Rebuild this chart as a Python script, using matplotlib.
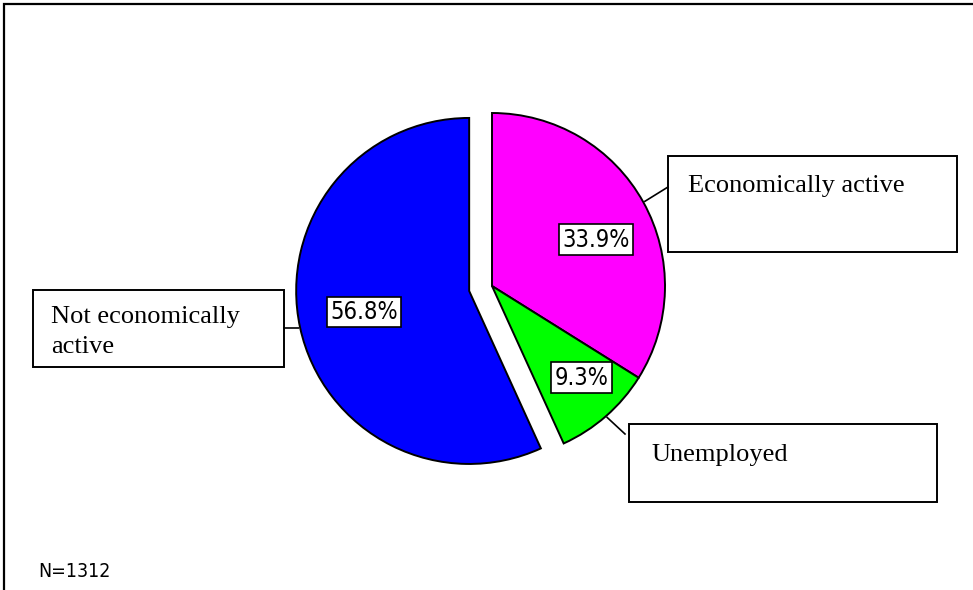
import matplotlib
matplotlib.use("Agg")
import matplotlib.pyplot as plt
from matplotlib.patches import Rectangle
from matplotlib import font_manager
import numpy as np

# slices, clockwise from 12 o'clock
labels = ["Economically active", "Unemployed", "Not economically\nactive"]
shares = [33.9, 9.3, 56.8]
colors = ["#ff00ff", "#00ff00", "#0000ff"]
explode = [0, 0, 0.135]   # as a fraction of the radius
sample_note = "N=1312"

W, H = 973, 590


def pick_font(names):
    have = {f.name for f in font_manager.fontManager.ttflist}
    for n in names:
        if n in have:
            return n
    return "DejaVu Sans"


def narrow_props(size):
    # prefer a narrow/condensed sans for the small numeric labels
    for f in font_manager.fontManager.ttflist:
        low = f.fname.lower()
        if ("narrow" in low or "condensed" in low) and "sans" in low \
                and "bold" not in low and "oblique" not in low \
                and "italic" not in low and "mono" not in low:
            return dict(fontproperties=font_manager.FontProperties(
                fname=f.fname, size=size))
    return dict(family="Liberation Sans", fontsize=size * 0.88)


serif = pick_font(["Liberation Serif", "DejaVu Serif"])


def up(y):
    # layout numbers are measured from the top edge
    return H - y


fig = plt.figure(figsize=(W / 100, H / 100), dpi=100)
ax = fig.add_axes([0, 0, 1, 1])

R = 173
wedges, _ = ax.pie(shares, colors=colors, startangle=90, counterclock=False,
                   explode=[e * R for e in explode], center=(492, up(286)),
                   radius=R,
                   wedgeprops=dict(edgecolor="black", linewidth=1.4))
ax.set_xlim(0, W)
ax.set_ylim(0, H)
ax.set_aspect("equal")
ax.axis("off")

# outer frame, only left and top edges fall inside the image
ax.add_patch(Rectangle((4, -100), 2000, up(4) + 100, fill=False,
                       edgecolor="black", linewidth=1.6))

# percentage labels inside the slices: (radius fraction, angle shift)
pct_place = [(0.66, -5), (0.74, 3), (0.62, -1)]
for w, v, (d, da) in zip(wedges, shares, pct_place):
    mid = np.deg2rad((w.theta1 + w.theta2) / 2 + da)
    x = w.center[0] + d * w.r * np.cos(mid)
    y = w.center[1] + d * w.r * np.sin(mid)
    ax.text(x, y, f"{v:.1f}%", ha="center", va="center",
            bbox=dict(boxstyle="square,pad=0.14", fc="white", ec="black",
                      lw=1.2),
            **narrow_props(17))

# callout boxes: (left, top, right, bottom), text x, first baseline, leader end
callouts = [
    ((668, 156, 957, 252), 688, 192, (668, 187)),
    ((629, 424, 937, 502), 651, 461, (625, 434)),
    ((33, 290, 284, 367), 51, 323, (284, 328)),
]
for w, lab, (box, tx, base, end) in zip(wedges, labels, callouts):
    x0, y0, x1, y1 = box
    ax.add_patch(Rectangle((x0, up(y1)), x1 - x0, y1 - y0, fill=False,
                           edgecolor="black", linewidth=1.4))
    for i, line in enumerate(lab.split("\n")):
        ax.text(tx, up(base + 30 * i), line, ha="left", va="baseline",
                fontsize=19, family=serif)
    mid = np.deg2rad((w.theta1 + w.theta2) / 2)
    sx = w.center[0] + w.r * 1.01 * np.cos(mid)
    sy = w.center[1] + w.r * 1.01 * np.sin(mid)
    ax.plot([sx, end[0]], [sy, up(end[1])], color="black", linewidth=1.2)

ax.text(38, up(577), sample_note, ha="left", va="baseline",
        **narrow_props(14))

fig.savefig("out.png", dpi=100)
